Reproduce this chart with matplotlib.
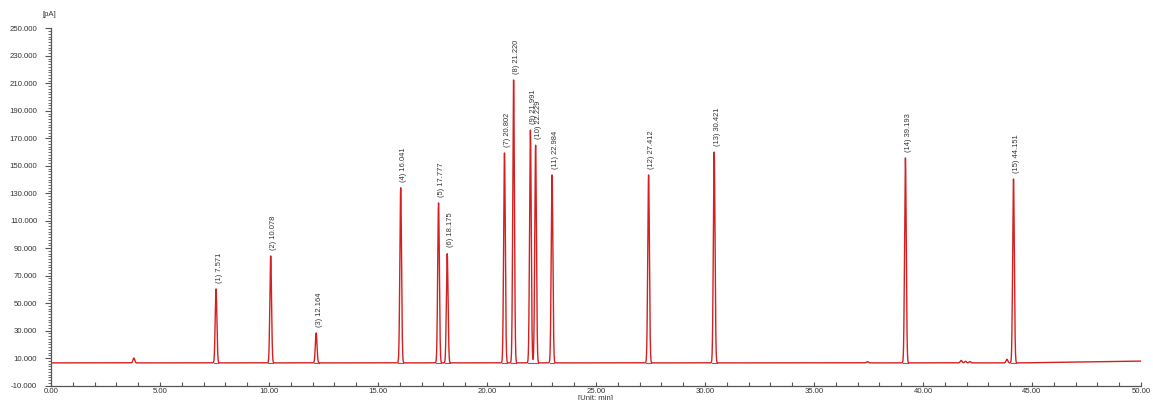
import numpy as np
import matplotlib
matplotlib.use("Agg")
import matplotlib.pyplot as plt
from matplotlib.ticker import MultipleLocator, FormatStrFormatter

plt.rcParams['font.family'] = ['Liberation Sans', 'DejaVu Sans']

# --- data ---
peak_numbers = [1, 2, 3, 4, 5, 6, 7, 8, 9, 10, 11, 12, 13, 14, 15]
retention_times = [7.571, 10.078, 12.164, 16.041, 17.777, 18.175, 20.802, 21.220,
                   21.991, 22.229, 22.984, 27.412, 30.421, 39.193, 44.151]
peak_heights = [60.4, 84.4, 28.4, 134.0, 123.0, 86.0, 159.3, 212.4,
                176.0, 165.0, 143.3, 143.3, 160.0, 155.7, 140.4]   # pA (apex)
minor_times = [3.80, 37.45, 41.75, 41.95, 42.15, 43.85]
minor_heights = [3.5, 0.9, 1.8, 1.2, 1.0, 2.6]                      # pA above baseline
baseline_times = [0.0, 44.5, 50.0]
baseline_levels = [6.6, 6.6, 7.9]

x_label = "[Unit: min]"
y_label = "[pA]"

# --- build signal ---
t = np.arange(0.0, 50.0, 0.002)
base = np.interp(t, baseline_times, baseline_levels)
sig = base.copy()
sigma = 0.038
for rt, h in zip(retention_times, peak_heights):
    b = np.interp(rt, baseline_times, baseline_levels)
    sig += (h - b) * np.exp(-0.5 * ((t - rt) / sigma) ** 2)
for rt, h in zip(minor_times, minor_heights):
    sig += h * np.exp(-0.5 * ((t - rt) / 0.04) ** 2)

fig = plt.figure(figsize=(11.53, 4.0), dpi=100)
ax = fig.add_axes([51 / 1153, 1 - 385.7 / 400, 1090 / 1153, 357.4 / 400])

ax.plot(t, sig, color='#d42020', lw=1.0, zorder=3)

# integration markers (blue baseline segments)
for rt in retention_times:
    b = np.interp(rt, baseline_times, baseline_levels)
    ax.plot([rt - 0.11, rt + 0.11], [b, b], color='#5a5aff', lw=0.8, zorder=2)

# peak labels
for n, rt, h in zip(peak_numbers, retention_times, peak_heights):
    ax.annotate(f"({n}) {rt:.3f}", xy=(rt, h), xytext=(2.2, 4.5),
                textcoords='offset points', rotation=90, ha='center', va='bottom',
                fontsize=5.4, color='#333333')

ax.set_xlim(0, 50)
ax.set_ylim(-10, 250)

ax.xaxis.set_major_locator(MultipleLocator(5))
ax.xaxis.set_minor_locator(MultipleLocator(1))
ax.xaxis.set_major_formatter(FormatStrFormatter('%.2f'))
ax.yaxis.set_minor_locator(MultipleLocator(2))
ax.set_yticks(np.arange(-10, 251, 20))
ax.yaxis.set_major_formatter(FormatStrFormatter('%.3f'))

for s in ['top', 'right']:
    ax.spines[s].set_visible(False)
for s in ['left', 'bottom']:
    ax.spines[s].set_color('#555555')
    ax.spines[s].set_linewidth(0.9)

ax.tick_params(axis='x', which='both', direction='in', length=3, width=0.8,
               colors='#555555', labelcolor='#333333', labelsize=5.6, pad=1.5)
ax.tick_params(axis='y', which='major', direction='out', length=4, width=0.8,
               colors='#555555', labelcolor='#333333', labelsize=5.6, pad=6)
ax.tick_params(axis='y', which='minor', direction='out', length=2, width=0.6,
               colors='#555555')

fig.text(596 / 1153, 1 - 394.8 / 400, x_label, ha='center', va='top',
         fontsize=5.6, color='#333333')
fig.text(49 / 1153, 1 - 15 / 400, y_label, ha='center', va='center',
         fontsize=5.6, color='#333333')

fig.savefig("out.png", dpi=100)
